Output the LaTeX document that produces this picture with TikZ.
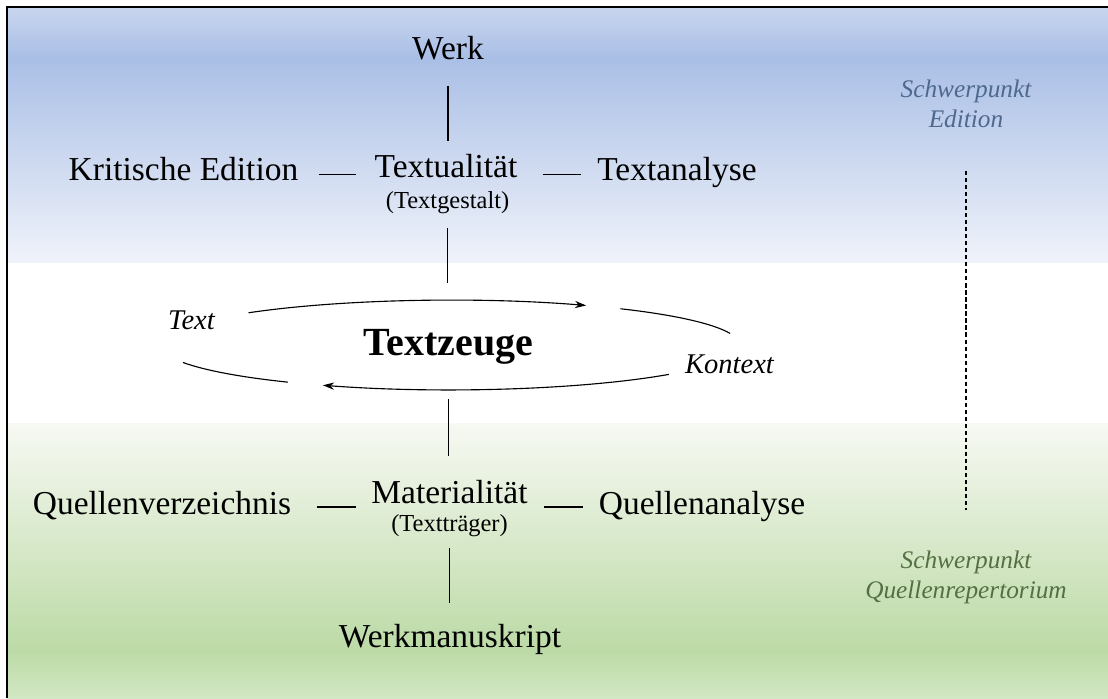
\documentclass[tikz,border=0pt]{standalone}
\usepackage{fontspec}
\setmainfont{Liberation Serif}
\usetikzlibrary{arrows.meta}

\definecolor{edblue}{RGB}{78,104,142}
\definecolor{qugreen}{RGB}{84,112,66}
\definecolor{bandblue}{RGB}{170,191,230}
\definecolor{bandblueA}{RGB}{200,213,238}
\definecolor{bandblueB}{RGB}{240,243,250}
\definecolor{bandgreen}{RGB}{188,218,166}
\definecolor{bandgreenA}{RGB}{247,249,243}
\definecolor{bandgreenB}{RGB}{210,231,195}

\begin{document}
\begin{tikzpicture}[
    >={Stealth[length=2.8mm,width=1.8mm]},
    every node/.style={inner sep=0pt},
    term/.style={anchor=base, font=\fontsize{23.8}{28}\selectfont},
    gloss/.style={anchor=base, font=\fontsize{17.4}{20}\selectfont},
    hub/.style={anchor=base, font=\fontsize{28.4}{33}\selectfont\bfseries},
    flow/.style={anchor=base, font=\fontsize{20.3}{24}\selectfont\itshape},
    focus/.style={anchor=north, align=center, font=\fontsize{18}{21.3}\selectfont\itshape},
    link/.style={line width=0.8pt}
  ]
        \useasboundingbox (0,0) rectangle (27.7,17.45);

        % background bands
        \shade[top color=bandblueA, bottom color=bandblue] (0.175,17.275) rectangle (27.7,16.0);
        \shade[top color=bandblue, bottom color=bandblueB] (0.175,16.0) rectangle (27.7,10.875);
        \shade[top color=bandgreenA, bottom color=bandgreen] (0.175,6.875) rectangle (27.7,1.2);
        \shade[top color=bandgreen, bottom color=bandgreenB] (0.175,1.2) rectangle (27.7,0);
        \draw[line width=2pt] (0.175,0) -- (0.175,17.275) -- (27.7,17.275);

        \node[term] at (11.2,15.95) (werk) {Werk};
        \node[term] at (11.15,13.0) (textual) {Textualität};
        \node[gloss] at (11.19,12.225) (gestalt) {(Textgestalt)};
        \node[term] at (4.5875,12.925) (krit) {Kritische Edition};
        \node[term] at (16.925,12.925) (tanalyse) {Textanalyse};

        \node[hub] at (11.2125,8.575) (zeuge) {Textzeuge};
        \node[flow] at (4.7875,9.225) (text) {Text};
        \node[flow] at (18.2375,8.125) (kontext) {Kontext};
        \coordinate (ring) at (11.25,8.825);

        \node[term] at (11.2375,4.875) (material) {Materialität};
        \node[gloss] at (11.2375,4.175) (traeger) {(Textträger)};
        \node[term] at (4.05,4.6) (qverz) {Quellenverzeichnis};
        \node[term] at (17.55,4.6) (qanalyse) {Quellenanalyse};
        \node[term] at (11.25,1.275) (werkms) {Werkmanuskript};

        \node[focus, text=edblue] at (24.15,15.4625) (schwedition) {Schwerpunkt\\Edition};
        \node[focus, text=qugreen] at (24.15,3.6875) (schwquellen) {Schwerpunkt\\Quellenrepertorium};

        % vertical axis
        \draw[link, shorten <=6.25mm, shorten >=3.5mm] (werk.south) -- (werk.south |- textual.north);
        \draw[link, shorten <=3.25mm, shorten >=11.5mm] (gestalt.south) -- (gestalt.south |- zeuge.north);
        \draw[link, shorten <=8.75mm, shorten >=6mm] (zeuge.south) -- (zeuge.south |- material.north);
        \draw[link, shorten <=2.75mm, shorten >=5.25mm] (traeger.south) -- (traeger.south |- werkms.north);

        % horizontal dashes
        \draw[link, shorten <=5mm, shorten >=4.5mm] ([yshift=1.6mm]krit.base east) -- ([yshift=1.6mm]krit.base east -| textual.west);
        \draw[link, shorten <=6.25mm, shorten >=4mm] ([yshift=1.6mm]tanalyse.base west -| textual.east) -- ([yshift=1.6mm]tanalyse.base west);
        \draw[link, shorten <=6.5mm, shorten >=3.75mm] ([yshift=1.75mm]qverz.base east) -- ([yshift=1.75mm]qverz.base east -| material.west);
        \draw[link, shorten <=4mm, shorten >=4mm] ([yshift=1.75mm]qanalyse.base west -| material.east) -- ([yshift=1.75mm]qanalyse.base west);

        % circulation round the witness
        \draw[link, ->] (ring) ++(134:7.25cm and 1.12cm) arc[start angle=134, end angle=62, x radius=7.25cm, y radius=1.12cm];
        \draw[link] (ring) ++(54:7.25cm and 1.12cm) arc[start angle=54, end angle=15, x radius=7.25cm, y radius=1.12cm];
        \draw[link, ->] (ring) ++(-41:7.25cm and 1.12cm) arc[start angle=-41, end angle=-116, x radius=7.25cm, y radius=1.12cm];
        \draw[link] (ring) ++(-124:7.25cm and 1.12cm) arc[start angle=-124, end angle=-157, x radius=7.25cm, y radius=1.12cm];

        \draw[line width=0.9pt, dash pattern=on 3pt off 2pt, shorten <=10.75mm, shorten >=10.1mm] (schwedition.south) -- (schwedition.south |- schwquellen.north);
            \end{tikzpicture}
\end{document}
